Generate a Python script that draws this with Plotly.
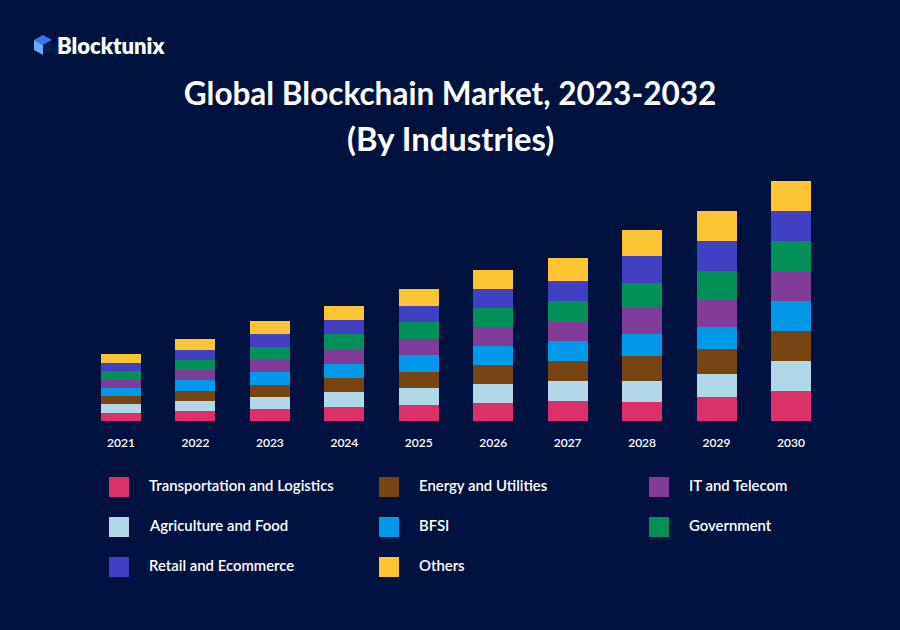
import plotly.graph_objects as go

years = ["2021", "2022", "2023", "2024", "2025", "2026", "2027", "2028", "2029", "2030"]
transportation = [8, 10, 12, 14, 16, 18, 20, 19, 24, 30]
agriculture = [9, 10, 12, 15, 17, 19, 20, 21, 23, 30]
energy = [8, 10, 12, 14, 16, 19, 20, 25, 25, 30]
bfsi = [8, 11, 13, 14, 17, 19, 20, 22, 22, 30]
it_telecom = [8, 10, 12, 15, 16, 19, 20, 26, 27, 30]
government = [9, 10, 13, 15, 17, 19, 20, 25, 29, 30]
retail = [8, 10, 13, 14, 16, 19, 20, 27, 30, 30]
others = [9, 11, 13, 14, 17, 19, 23, 26, 30, 30]

series = [
    ("Transportation and Logistics", transportation, "#DC3068"),
    ("Agriculture and Food", agriculture, "#B0D8E8"),
    ("Energy and Utilities", energy, "#784414"),
    ("BFSI", bfsi, "#0098E8"),
    ("IT and Telecom", it_telecom, "#803C98"),
    ("Government", government, "#009058"),
    ("Retail and Ecommerce", retail, "#4040C0"),
    ("Others", others, "#FFC433"),
]

BG = "#001340"
FONT = "Lato"
W, H = 900, 630


def px(x):
    return x / W


def py(y):
    return 1 - y / H


fig = go.Figure()
for name, vals, col in series:
    fig.add_trace(go.Bar(x=years, y=vals, name=name, marker=dict(color=col, line=dict(width=0)), showlegend=False))

shapes = []
annotations = []

# legend laid out in rows: (series index, swatch left, row centre)
legend_layout = [
    (0, 109, 487), (2, 379, 487), (4, 649, 487),
    (1, 109, 527), (3, 379, 527), (5, 649, 527),
    (6, 109, 567), (7, 379, 567),
]
for idx, lx, ly in legend_layout:
    name, _, col = series[idx]
    shapes.append(dict(type="rect", xref="paper", yref="paper", x0=px(lx), x1=px(lx + 20),
                       y0=py(ly + 10), y1=py(ly - 10), fillcolor=col, line=dict(width=0)))
    annotations.append(dict(text=name, xref="paper", yref="paper", x=px(lx + 38), y=py(ly - 2), xanchor="left",
                            yanchor="middle", showarrow=False, font=dict(family=FONT, size=14.9, color="white", weight=600)))


def poly(points):
    return "M " + " L ".join(f"{px(a):.4f},{py(b):.4f}" for a, b in points) + " Z"


# logo cube
for pts, col in [
    ([(43, 35), (52, 40), (43, 45), (34, 40)], "#3B78F0"),
    ([(34, 40), (43, 45), (43, 55), (34, 50)], "#6AA8F8"),
    ([(43, 45), (52, 40), (52, 50), (43, 55)], "#0A1C55"),
]:
    shapes.append(dict(type="path", xref="paper", yref="paper", path=poly(pts), fillcolor=col, line=dict(width=0)))

annotations.append(dict(text="Blocktunix", xref="paper", yref="paper", x=px(55), y=py(46), xanchor="left", yanchor="middle",
                        showarrow=False, font=dict(family=FONT, size=22, color="white", weight=800)))
annotations.append(dict(text="(By Industries)", xref="paper", yref="paper", x=0.5, y=py(138), xanchor="center", yanchor="middle",
                        showarrow=False, font=dict(family=FONT, size=32.8, color="white", weight=700)))

fig.update_layout(
    width=W, height=H, autosize=False, barmode="stack", bargap=0.4624,
    paper_bgcolor=BG, plot_bgcolor=BG,
    margin=dict(l=0, r=0, t=0, b=0),
    title=dict(text="Global Blockchain Market, 2023-2032", x=0.5, xanchor="center", y=py(94), yanchor="middle",
               font=dict(family=FONT, size=31.5, color="white", weight=700)),
    xaxis=dict(domain=[px(83.8), px(828.2)], type="category", showgrid=False, zeroline=False, showline=False,
               ticks="outside", ticklen=11, tickcolor="rgba(0,0,0,0)", tickfont=dict(family=FONT, size=12, color="white", weight=600)),
    yaxis=dict(domain=[py(421), py(170)], range=[0, 251], visible=False),
    shapes=shapes, annotations=annotations,
)
fig.write_html("out.html", config={"displayModeBar": False}, post_script="document.body.style.margin='0';")
